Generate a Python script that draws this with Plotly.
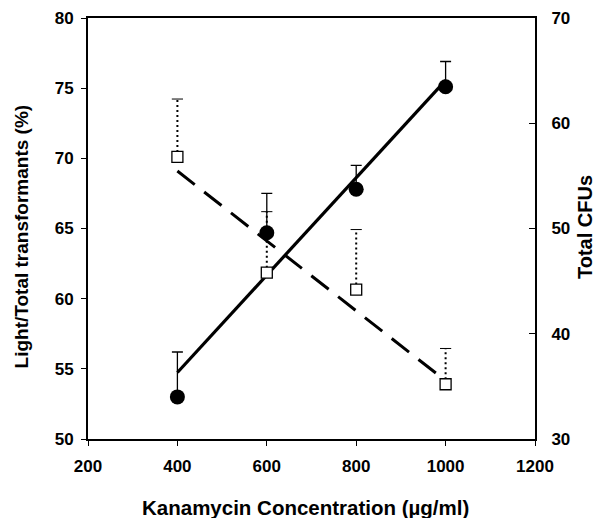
import numpy as np
import plotly.graph_objects as go

# Data
kanamycin = [400, 600, 800, 1000]
light_pct = [53.0, 64.7, 67.8, 75.1]          # filled circles, left axis
light_err = [3.2, 2.8, 1.7, 1.8]
total_cfu = [56.8, 45.8, 44.2, 35.2]          # open squares, right axis
cfu_err = [5.5, 5.8, 5.7, 3.4]

x_ticks = [200, 400, 600, 800, 1000, 1200]
left_ticks = [50, 55, 60, 65, 70, 75, 80]
right_ticks = [30, 40, 50, 60, 70]

x_title = "Kanamycin Concentration (µg/ml)"
y_title = "Light/Total transformants (%)"
y2_title = "Total CFUs"

FONT = "Liberation Sans, Arial, sans-serif"

x = np.array(kanamycin, dtype=float)
fit_l = np.polyfit(x, light_pct, 1)
fit_r = np.polyfit(x, total_cfu, 1)
xfit = np.array([min(kanamycin), max(kanamycin)], dtype=float)

fig = go.Figure()

# dotted error stems for CFU (right axis)
ex, ey = [], []
for xi, yi, ei in zip(kanamycin, total_cfu, cfu_err):
    ex += [xi, xi, None]
    ey += [yi, yi + ei, None]
fig.add_trace(go.Scatter(x=ex, y=ey, mode="lines", yaxis="y2",
                         line=dict(color="black", width=2, dash="2px,3px"),
                         hoverinfo="skip", showlegend=False))
fig.add_trace(go.Scatter(x=kanamycin, y=[v + e for v, e in zip(total_cfu, cfu_err)],
                         mode="markers", yaxis="y2",
                         marker=dict(symbol="line-ew", size=8, color="black",
                                     line=dict(color="black", width=1)),
                         hoverinfo="skip", showlegend=False))

# dashed trend line for CFU
fig.add_trace(go.Scatter(x=xfit, y=np.polyval(fit_r, xfit), mode="lines", yaxis="y2",
                         line=dict(color="black", width=3, dash="22px,12px"),
                         showlegend=False))

# open squares
fig.add_trace(go.Scatter(x=kanamycin, y=total_cfu, mode="markers", yaxis="y2",
                         marker=dict(symbol="square", size=11, color="white",
                                     line=dict(color="black", width=1.3)),
                         showlegend=False))

# solid trend line for light/total
fig.add_trace(go.Scatter(x=xfit, y=np.polyval(fit_l, xfit), mode="lines",
                         line=dict(color="black", width=3.2), showlegend=False))

# filled circles with upward error bars
fig.add_trace(go.Scatter(x=kanamycin, y=light_pct, mode="markers",
                         marker=dict(symbol="circle", size=15, color="black"),
                         error_y=dict(type="data", array=light_err,
                                      arrayminus=[0] * len(light_err),
                                      color="black", thickness=1.3, width=5.5),
                         showlegend=False))

axis_font = dict(family=FONT, size=17, color="black", weight="bold")
ytitle_font = dict(family=FONT, size=19, color="black", weight="bold")
rtitle_font = dict(family=FONT, size=20, color="black", weight="bold")
xtitle_font = dict(family=FONT, size=20.5, color="black", weight="bold")

common = dict(showgrid=False, zeroline=False, showline=True, linecolor="black",
              linewidth=2, tickcolor="black", tickwidth=1, tickfont=axis_font,
              automargin=False)

fig.update_layout(
    width=596, height=518,
    margin=dict(l=88, r=61, t=18, b=79),
    paper_bgcolor="white", plot_bgcolor="white",
    xaxis=dict(range=[200, 1200], tickvals=x_ticks, mirror=True,
               ticks="outside", ticklen=5, ticklabelstandoff=6, **common),
    yaxis=dict(range=[50, 80], tickvals=left_ticks,
               ticks="outside", ticklen=5, ticklabelstandoff=4, **common),
    yaxis2=dict(range=[30, 70], tickvals=right_ticks, overlaying="y", side="right",
                ticks="inside", ticklen=6, ticklabelstandoff=11, **common),
    annotations=[
        dict(text=x_title, font=xtitle_font, showarrow=False,
             xref="paper", yref="paper", x=0.4855, y=0, yshift=-68,
             xanchor="center", yanchor="middle"),
        dict(text=y_title, font=ytitle_font, showarrow=False, textangle=-90,
             xref="paper", yref="paper", x=0, xshift=-66.5, y=0.48,
             xanchor="center", yanchor="middle"),
        dict(text=y2_title, font=rtitle_font, showarrow=False, textangle=-90,
             xref="paper", yref="paper", x=1, xshift=50, y=0.5036,
             xanchor="center", yanchor="middle"),
    ],
)

fig.write_html("out.html",
               config={"displayModeBar": False},
               post_script="document.body.style.margin='0';"
                           "document.body.style.overflow='hidden';")
